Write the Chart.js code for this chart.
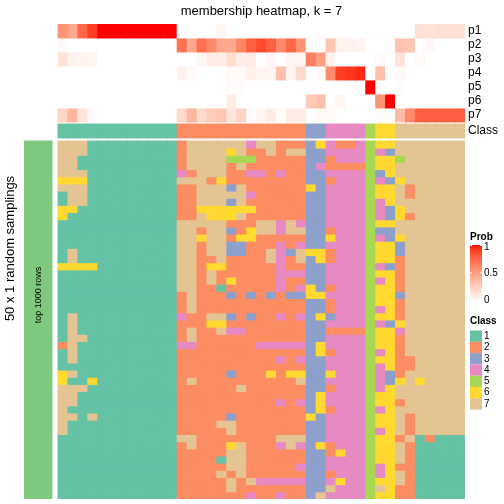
<!DOCTYPE html>
<html>
<head>
<meta charset="utf-8">
<script src="https://cdn.jsdelivr.net/npm/chart.js@4.4.1/dist/chart.umd.min.js"></script>
<style>
html,body{margin:0;padding:0;background:#ffffff;}
#wrap{width:504px;height:504px;position:relative;}
</style>
</head>
<body>
<div id="wrap"><canvas id="c" width="504" height="504"></canvas></div>
<script>
// ---------------- data ----------------
const chartTitle = "membership heatmap, k = 7";
const probRowLabels = ["p1","p2","p3","p4","p5","p6","p7"];
const classRowLabel = "Class";
const classLabels = ["1","2","3","4","5","6","7"];
const sideTitle = "50 x 1 random samplings";
const sideBarLabel = "top 1000 rows";
const probLegendTitle = "Prob";
const probLegendTicks = [1, 0.5, 0];
const classLegendTitle = "Class";

// predicted class of each of the 41 columns
const columnClasses = [1,1,1,1,1,1,1,1,1,1,1,1, 2,2,2,2,2,2,2,2,2,2,2,2,2, 3,3, 4,4,4,4, 5, 6,6, 7,7,7,7,7,7,7];

// membership probabilities per column
const p1 = [0.55,0.45,0.75,0.9, 1,1,1,1,1,1,1,1, 0,0,0,0,0.05,0,0,0,0,0,0,0,0, 0,0, 0,0,0,0, 0, 0,0, 0,0,0.16,0.15,0.16,0.16,0.16];
const p2 = [0.03,0,0,0,0,0,0,0,0,0,0,0, 0.7,0.45,0.72,0.6,0.45,0.45,0.62,0.78,0.86,0.78,0.6,0.75,0.55, 0,0, 0.3,0.07,0.07,0.06, 0, 0,0, 0.32,0.3,0,0.04,0,0,0];
const p3 = [0.15,0.07,0.06,0.06,0,0,0,0,0,0,0,0, 0,0,0.04,0.1,0.1,0.18,0.1,0.1,0, 0.04,0,0.05,0.05, 0.65,0.5, 0.07,0,0,0, 0, 0.03,0, 0.15,0,0.03,0,0,0,0];
const p4 = [0,0,0,0,0,0,0,0,0,0,0,0, 0.07,0.03,0,0,0,0.03,0.03,0.08,0.06, 0.05,0.33,0.05,0.2, 0,0.03, 0.58,0.9,0.92,0.95, 0, 0.33,0, 0.03,0,0,0,0,0,0];
const p5 = [0,0,0,0,0,0,0,0,0,0,0,0, 0,0,0,0,0,0.02,0.02,0,0, 0,0,0,0, 0,0, 0,0,0,0, 1, 0,0, 0.02,0,0,0,0,0,0];
const p6 = [0,0,0,0,0,0,0,0,0,0,0,0, 0,0,0,0,0,0.1,0,0,0, 0,0,0,0, 0.28,0.33, 0,0.05,0,0, 0, 0.55,1, 0,0,0,0,0,0,0];
const p7 = [0.22,0.38,0.14,0.02,0,0,0,0,0,0,0,0, 0.2,0.38,0.2,0.26,0.3,0.14,0.22,0.02,0.05, 0.1,0.02,0.1,0.1, 0,0.03, 0.03,0,0,0, 0, 0.02,0, 0.35,0.6,0.78,0.78,0.78,0.78,0.78];
const probRows = [p1,p2,p3,p4,p5,p6,p7];

// class assigned in each of the 50 random samplings (rows) for each column
const samplingRows = [
"777111111111 2777777477222 36 4224 5 66 7777777",
"777111111111 2777767227277 33 4444 5 43 7777777",
"771111111111 2777755522222 33 2444 5 66 5777777",
"771111111111 2777727222222 34 2222 5 66 7777777",
"777111111111 4277722442422 33 4444 5 36 7777777",
"666111111111 7772622222222 33 2444 5 43 6777777",
"777111111111 2277737222222 63 4444 5 66 7277777",
"177111111111 2277777422222 33 4444 5 66 7277777",
"177111111111 2277737222222 33 4444 5 46 7777777",
"661111111111 2266666622222 33 4444 5 43 6777777",
"611111111111 2276667222222 33 4444 5 43 6277777",
"111111111111 7777722277474 33 4444 5 66 7777777",
"111111111111 7727732677477 33 2444 5 33 7777777",
"111111111111 7767726622222 33 6444 5 43 6777777",
"111111111111 7727733222424 33 4444 5 66 3777777",
"171111111111 7727733227437 66 2444 5 66 3777777",
"171111111111 7722722227427 36 2444 5 66 2777777",
"666611111111 7726622222422 33 4444 5 43 2777777",
"111111111111 7727222222444 33 4444 5 66 2777777",
"111111111111 7727262222422 33 4444 5 46 2777777",
"111111111111 7722122222424 63 2444 5 66 2777777",
"111111111111 2722232323233 66 4444 5 66 3777777",
"111111111111 2722222222222 33 2444 5 66 2777777",
"111111111111 2722222222222 33 2444 5 46 2777777",
"171111111111 4227732322424 36 3444 5 66 2777777",
"171111111111 2226622222222 33 4444 5 43 6777777",
"171111111111 2722744222222 33 2222 5 66 4777777",
"177111111111 2722222222222 33 4444 5 66 2777777",
"271111111111 4422222244444 36 4444 5 66 2777777",
"171111111111 2222222222222 36 2444 5 46 2777777",
"171111111111 2222222222424 33 4444 5 66 2277777",
"111111111111 2222222222222 33 4444 5 46 2277777",
"671111111111 2222232226266 33 6444 5 43 2777777",
"611611111111 2722222222227 33 4444 5 43 6767777",
"777111111111 2222227222222 33 2444 5 46 7777777",
"771111111111 2222222222222 36 4444 5 66 7777777",
"771111111111 2222222222424 36 4444 5 66 2777777",
"711111111111 2222222222222 36 2444 5 46 7777777",
"771711111111 2222232222222 63 4444 5 66 7277777",
"711111111111 2222772222222 33 4444 5 66 7277777",
"711111111111 2222272222222 33 4444 5 46 7277777",
"111111111111 7722222222777 33 4444 5 66 2712111",
"111111111111 2722267222474 36 2444 5 66 7211111",
"111111111111 2222277222222 33 2644 5 66 7211111",
"111111111111 2222177222222 33 4444 5 66 7211111",
"111111111111 2222277222224 33 4444 5 46 2211111",
"111111111111 2222727222222 33 2444 5 46 7211111",
"111111111111 2222272744444 33 4644 5 66 7211111",
"111111111111 2222272222222 33 7444 5 76 2211111",
"111111111111 2222222422422 37 4444 5 66 2211111"
];

// ---------------- styles ----------------
const classColors = {1:"#66C2A5",2:"#FC8D62",3:"#8DA0CB",4:"#E78AC3",5:"#A6D854",6:"#FFD92F",7:"#E5C494"};
const samplingBarColor = "#7FC97F";
const FONT = '"Liberation Sans", Arial, Helvetica, sans-serif';

// white -> red ramp interpolated in CIE LAB (like colorRamp2)
function toLin(c){c/=255;return c<=0.04045?c/12.92:Math.pow((c+0.055)/1.055,2.4);}
function toSrgb(c){c=c<=0.0031308?12.92*c:1.055*Math.pow(c,1/2.4)-0.055;return Math.round(Math.max(0,Math.min(1,c))*255);}
function rgb2lab(r,g,b){
  const R=toLin(r),G=toLin(g),B=toLin(b);
  const X=(0.4124*R+0.3576*G+0.1805*B)/0.95047, Y=(0.2126*R+0.7152*G+0.0722*B), Z=(0.0193*R+0.1192*G+0.9505*B)/1.08883;
  const f=t=>t>0.008856?Math.cbrt(t):7.787*t+16/116;
  const fx=f(X),fy=f(Y),fz=f(Z);
  return [116*fy-16,500*(fx-fy),200*(fy-fz)];
}
function lab2rgb(L,a,b){
  const fy=(L+16)/116, fx=fy+a/500, fz=fy-b/200;
  const fi=t=>{const t3=t*t*t;return t3>0.008856?t3:(t-16/116)/7.787;};
  const X=fi(fx)*0.95047, Y=fi(fy), Z=fi(fz)*1.08883;
  const R=3.2406*X-1.5372*Y-0.4986*Z, G=-0.9689*X+1.8758*Y+0.0415*Z, B=0.0557*X-0.2040*Y+1.0570*Z;
  return "rgb("+toSrgb(R)+","+toSrgb(G)+","+toSrgb(B)+")";
}
const labLo = rgb2lab(255,255,255), labHi = rgb2lab(255,0,0);
function probColor(v){
  v=Math.max(0,Math.min(1,v));
  return lab2rgb(labLo[0]+(labHi[0]-labLo[0])*v, labLo[1]+(labHi[1]-labLo[1])*v, labLo[2]+(labHi[2]-labLo[2])*v);
}

// ---------------- layout (scale units) ----------------
const nCols = columnClasses.length;
const nRows = samplingRows.length;
const rowsParsed = samplingRows.map(s => s.replace(/\s+/g,"").split("").map(Number));
const colW = 407/41;            // px per column unit
const rowH = 358/50;            // px per sampling row unit
const plotLeftPx = 24, plotRightPx = 465, plotTopPx = 24, plotBottomPx = 499;
const xMax = nCols - 0.5;
const xMin = xMax - (plotRightPx - plotLeftPx)/colW;
const yMax = nRows;
const yMin = yMax - (plotBottomPx - plotTopPx)/rowH;
const annH = 14/rowH;
const classTop = -17/rowH, classBottom = -3/rowH;
const sideBarX = xMin + 14/colW;
const cols = columnClasses.map((_, i) => i);

const datasets = [];
datasets.push({ data:[{x: sideBarX, y:[0, nRows]}], backgroundColor: samplingBarColor, barThickness: 28 });
probRows.forEach((vals, k) => {
  const a = yMin + k*annH, b = yMin + (k+1)*annH;
  datasets.push({ data: cols.map(c => ({x:c, y:[a,b]})), backgroundColor: vals.map(probColor) });
});
datasets.push({ data: cols.map(c => ({x:c, y:[classTop, classBottom]})), backgroundColor: columnClasses.map(k => classColors[k]) });
rowsParsed.forEach((row, r) => {
  datasets.push({ data: cols.map(c => ({x:c, y:[r, r+1]})), backgroundColor: row.map(k => classColors[k]) });
});

const textPlugin = {
  id: "texts",
  afterDraw(chart){
    const ctx = chart.ctx, ys = chart.scales.y;
    ctx.save();
    ctx.fillStyle = "#000";
    // title
    ctx.font = "13px " + FONT; ctx.textAlign = "center"; ctx.textBaseline = "middle";
    ctx.fillText(chartTitle, (chart.scales.x.getPixelForValue(-0.5)+chart.scales.x.getPixelForValue(xMax))/2, 11);
    // row labels
    ctx.font = "12px " + FONT; ctx.textAlign = "left";
    probRowLabels.forEach((lab, k) => {
      ctx.fillText(lab, 468, ys.getPixelForValue(yMin + (k+0.5)*annH));
    });
    ctx.fillText(classRowLabel, 468, ys.getPixelForValue((classTop+classBottom)/2));
    // side titles
    ctx.save(); ctx.translate(14, 248.5); ctx.rotate(-Math.PI/2);
    ctx.font = "13px " + FONT; ctx.textAlign = "center"; ctx.textBaseline = "alphabetic";
    ctx.fillText(sideTitle, 0, 0); ctx.restore();
    ctx.save(); ctx.translate(40.5, 295); ctx.rotate(-Math.PI/2);
    ctx.font = "9px " + FONT; ctx.textAlign = "center"; ctx.textBaseline = "alphabetic";
    ctx.fillText(sideBarLabel, 0, 0); ctx.restore();
    // prob legend
    ctx.font = "bold 10px " + FONT; ctx.textAlign = "left"; ctx.textBaseline = "alphabetic";
    ctx.fillText(probLegendTitle, 470, 240);
    const gTop = 245, gBot = 301, gx = 470, gw = 12;
    const grad = ctx.createLinearGradient(0, gTop, 0, gBot);
    for (let i=0;i<=20;i++){ grad.addColorStop(i/20, probColor(1 - i/20)); }
    ctx.fillStyle = grad; ctx.fillRect(gx, gTop, gw, gBot-gTop);
    ctx.strokeStyle = "#ffffff"; ctx.lineWidth = 1;
    ctx.fillStyle = "#000"; ctx.font = "10px " + FONT; ctx.textBaseline = "middle";
    probLegendTicks.forEach(v => {
      const yy = gBot - v*(gBot-gTop-1) - 0.5;
      ctx.beginPath(); ctx.moveTo(gx, yy); ctx.lineTo(gx+2, yy); ctx.moveTo(gx+gw-2, yy); ctx.lineTo(gx+gw, yy); ctx.stroke();
      const ly = v===1 ? 247 : (v===0 ? 300.5 : 273.5);
      ctx.fillText(String(v), 484, ly);
    });
    // class legend
    ctx.font = "bold 10px " + FONT; ctx.textBaseline = "alphabetic";
    ctx.fillText(classLegendTitle, 470, 324);
    ctx.font = "10px " + FONT; ctx.textBaseline = "middle";
    const boxH = 11.3, bTop = 330.5;
    classLabels.forEach((lab, i) => {
      ctx.fillStyle = classColors[i+1];
      ctx.fillRect(470, bTop + i*boxH, 12, boxH);
      ctx.fillStyle = "#000";
      ctx.fillText(lab, 484, bTop + (i+0.5)*boxH);
    });
    ctx.restore();
  }
};

new Chart(document.getElementById("c"), {
  type: "bar",
  data: { datasets },
  options: {
    responsive: false,
    animation: false,
    devicePixelRatio: 1,
    grouped: false,
    layout: { padding: { left: plotLeftPx, right: 504 - plotRightPx, top: plotTopPx, bottom: 504 - plotBottomPx } },
    datasets: { bar: { grouped: false, barPercentage: 1, categoryPercentage: 1, borderWidth: 0, inflateAmount: 0.45 } },
    plugins: { legend: { display: false }, tooltip: { enabled: false }, title: { display: false } },
    scales: {
      x: { type: "linear", min: xMin, max: xMax, offset: false, display: false,
           ticks: { stepSize: 1, includeBounds: false }, grid: { display: false, offset: false } },
      y: { type: "linear", min: yMin, max: yMax, reverse: true, display: false, beginAtZero: false,
           grid: { display: false } }
    }
  },
  plugins: [textPlugin]
});
</script>
</body>
</html>
